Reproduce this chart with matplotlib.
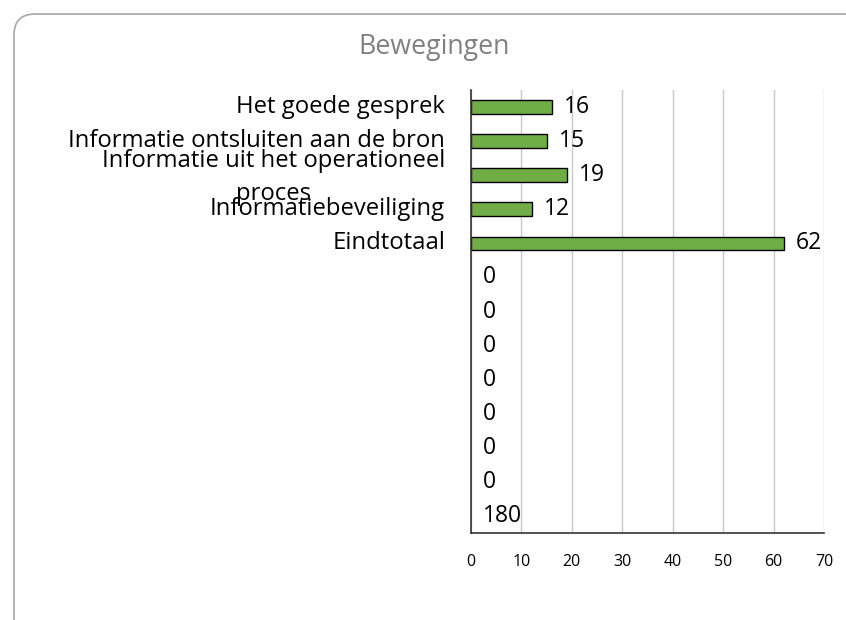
import matplotlib
matplotlib.use("Agg")
import matplotlib.pyplot as plt
from matplotlib.patches import FancyBboxPatch
from matplotlib import font_manager

title = "Bewegingen"
categories = ["Het goede gesprek", "Informatie ontsluiten aan de bron",
              "Informatie uit het operationeel\nproces", "Informatiebeveiliging",
              "Eindtotaal", "", "", "", "", "", "", "", ""]
values = [16, 15, 19, 12, 62, 0, 0, 0, 0, 0, 0, 0, 180]
xticks = [0, 10, 20, 30, 40, 50, 60, 70]

names = {f.name for f in font_manager.fontManager.ttflist}
wide = "Open Sans" if "Open Sans" in names else "DejaVu Sans"
cat_kw = dict(family=wide)

W, H = 846, 620
fig = plt.figure(figsize=(W / 100, H / 100), dpi=100)
fig.patch.set_facecolor("white")

# rounded outer frame
frame = FancyBboxPatch((14 / W, -30 / H), (W + 30 - 14) / W, (H - 14 + 30) / H,
                       boxstyle="round,pad=0,rounding_size=0.025",
                       transform=fig.transFigure, facecolor="white",
                       edgecolor="#a6a6a6", linewidth=1.2, mutation_aspect=W / H,
                       zorder=-5)
fig.patches.append(frame)

x0, x1, ytop, ybot = 471, 824, 90, 533
ax = fig.add_axes([x0 / W, (H - ybot) / H, (x1 - x0) / W, (ybot - ytop) / H])
ax.set_zorder(2)
ax.set_facecolor("none")
n = len(values)
y = list(range(n))
bars = ax.barh(y, values, height=0.4, color="#70AD47", edgecolor="black", linewidth=1.0, zorder=2)
ax.set_xlim(0, 70)
ax.set_ylim(n - 0.5, -0.5)
ax.set_xticks(xticks)
ax.set_yticks(y)
ax.set_yticklabels([""] * n)
ax.tick_params(axis="y", length=0, pad=0)
ax.tick_params(axis="x", length=0, pad=15, labelsize=11.5)
for lbl in ax.get_xticklabels():
    lbl.set_family(wide)
    lbl.set_color("#000000")
ax.grid(axis="x", color="#c8c8c8", linewidth=1.0, zorder=0)
for s in ["top", "right"]:
    ax.spines[s].set_visible(False)
for s in ["left", "bottom"]:
    ax.spines[s].set_color("#333333")
    ax.spines[s].set_linewidth(1.2)
    ax.spines[s].set_zorder(3)

# category labels: right edge at x=445 px, multi-line centred
lab_x = (445 - x0) / (x1 - x0)
cat_texts = []
for yi, c in zip(y, categories):
    if c:
        t = ax.text(lab_x, yi + (0.06 if "\n" in c else 0), c, transform=ax.get_yaxis_transform(),
                    ha="right", va="center", multialignment="center", fontsize=15,
                    linespacing=1.5, color="#000000", **cat_kw)
        cat_texts.append(t)

for b, v in zip(bars, values):
    if v == 0:
        b.set_linewidth(0)
    if v > ax.get_xlim()[1]:
        b.set_visible(False)
        xpos = 0
    else:
        xpos = v
    ax.annotate(str(v), (xpos, b.get_y() + b.get_height() / 2), xytext=(12, 0),
                textcoords="offset pixels", va="center", ha="left", fontsize=16.5,
                family=wide, color="#000000", zorder=4)

ttl = fig.text(434 / W, 1 - 47 / H, title, ha="center", va="center", fontsize=16,
               color="#808080", family=wide)

# fit sizes to the reference text widths
fig.canvas.draw()
r = fig.canvas.get_renderer()
w2 = cat_texts[1].get_window_extent(r).width
scale = 377.0 / w2
for t in cat_texts:
    t.set_fontsize(15 * scale)
wt = ttl.get_window_extent(r).width
ttl.set_fontsize(16 * 152.0 / wt)

fig.savefig("out.png", dpi=100)
